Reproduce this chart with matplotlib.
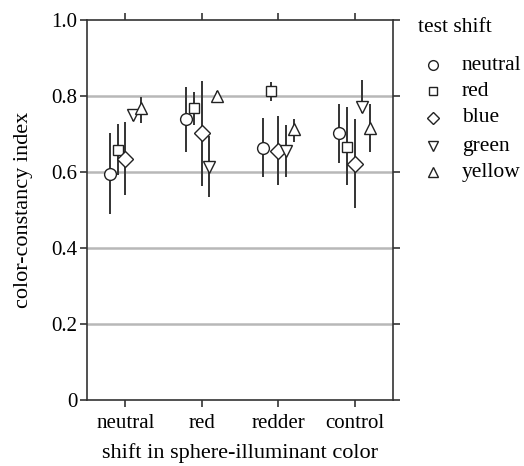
import matplotlib.pyplot as plt
from matplotlib.lines import Line2D
import numpy as np

plt.rcParams['font.family'] = ['Liberation Serif', 'DejaVu Serif']

# illuminant shift groups on the x axis
groups = ['neutral', 'red', 'redder', 'control']
# test shift series
tests = ['neutral', 'red', 'blue', 'green', 'yellow']
markers = ['o', 's', 'D', 'v', '^']
msizes = [8.5, 7.5, 8, 9, 9]

# mean index per group, one list per test shift
neutral_mean = [0.595, 0.739, 0.664, 0.702]
red_mean = [0.658, 0.769, 0.812, 0.667]
blue_mean = [0.634, 0.702, 0.655, 0.620]
green_mean = [0.750, 0.614, 0.655, 0.771]
yellow_mean = [0.768, 0.800, 0.712, 0.715]

# lower / upper ends of error bars
neutral_lo = [0.489, 0.653, 0.587, 0.623]
neutral_hi = [0.702, 0.823, 0.742, 0.778]
red_lo = [0.592, 0.724, 0.787, 0.566]
red_hi = [0.726, 0.811, 0.837, 0.772]
blue_lo = [0.539, 0.564, 0.566, 0.505]
blue_hi = [0.731, 0.840, 0.747, 0.739]
green_lo = [0.735, 0.534, 0.587, 0.755]
green_hi = [0.762, 0.695, 0.724, 0.842]
yellow_lo = [0.730, 0.783, 0.680, 0.653]
yellow_hi = [0.798, 0.812, 0.740, 0.780]

means = [neutral_mean, red_mean, blue_mean, green_mean, yellow_mean]
lows = [neutral_lo, red_lo, blue_lo, green_lo, yellow_lo]
highs = [neutral_hi, red_hi, blue_hi, green_hi, yellow_hi]
offsets = [-0.2, -0.1, 0.0, 0.1, 0.2]

W, H = 524, 466
fig = plt.figure(figsize=(W / 100, H / 100), dpi=100)
ax = fig.add_axes([87 / W, 66 / H, 306 / W, 380 / H])

for yv in [0.2, 0.4, 0.6, 0.8]:
    ax.axhline(yv, color='#b8b8b8', lw=1.8, zorder=0)

x = np.arange(len(groups))
for i in range(len(tests)):
    m = np.array(means[i])
    err = [m - np.array(lows[i]), np.array(highs[i]) - m]
    ax.errorbar(x + offsets[i], m, yerr=err, fmt=markers[i], ms=msizes[i],
                mfc='white', mec='#222222', mew=1.0, ecolor='#333333', elinewidth=1.4,
                capsize=0, zorder=3)

ax.set_xlim(-0.5, 3.5)
ax.set_ylim(0, 1.0)
ax.set_xticks(x)
ax.set_xticklabels(groups)
ax.set_yticks([0, 0.2, 0.4, 0.6, 0.8, 1.0])
ax.set_yticklabels(['0', '0.2', '0.4', '0.6', '0.8', '1.0'])
ax.tick_params(direction='out', length=5, width=1.2, top=True, right=True,
               labelsize=15, colors='#333333', labelcolor='black', pad=2)
ax.tick_params(axis='x', pad=5)
for s in ax.spines.values():
    s.set_linewidth(1.2)
    s.set_color('#333333')

ax.set_ylabel('color-constancy index', fontsize=16, labelpad=13)
ax.set_xlabel('shift in sphere-illuminant color', fontsize=16, labelpad=7)

# legend drawn by hand in pixel positions
fig.text(418 / W, 1 - 28 / H, 'test shift', fontsize=15.5, va='center', ha='left')
rows = [65, 91, 118, 146, 172]
for mk, ms, lab, ry in zip(markers, msizes, tests, rows):
    fig.add_artist(Line2D([433 / W], [1 - ry / H], ls='none', marker=mk, ms=ms - 1.5,
                          mfc='white', mec='#222222', mew=1.0, transform=fig.transFigure))
    fig.text(462 / W, 1 - ry / H, lab, fontsize=15.5, va='center', ha='left')

fig.savefig('out.png', dpi=100)
